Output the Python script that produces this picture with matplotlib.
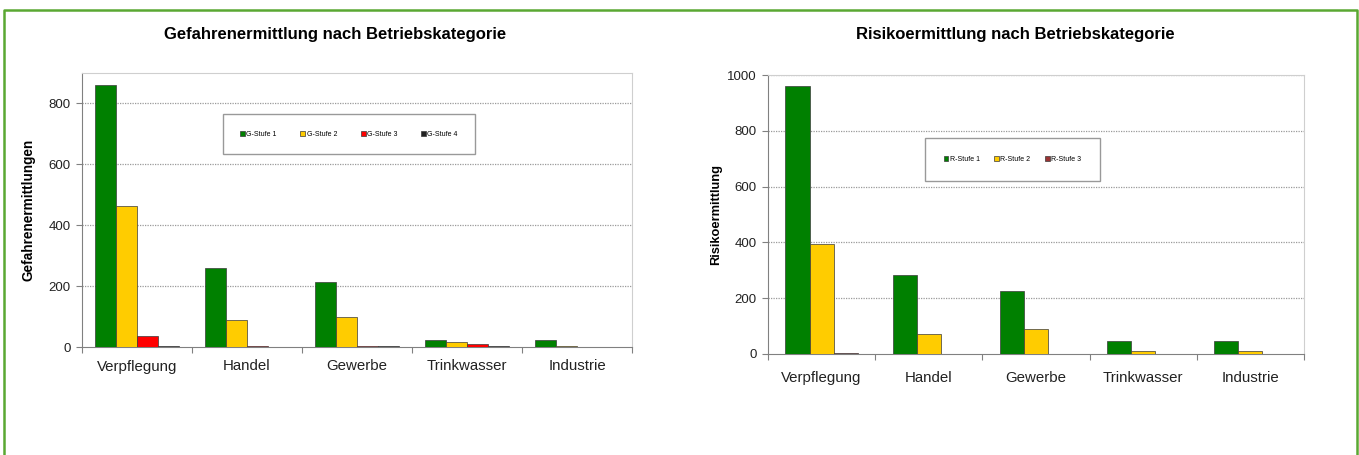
import matplotlib.pyplot as plt
import numpy as np
from matplotlib.lines import Line2D

plt.rcParams['font.family'] = ['Liberation Sans', 'DejaVu Sans']

categories = ['Verpflegung', 'Handel', 'Gewerbe', 'Trinkwasser', 'Industrie']

# Gefahrenermittlung (left chart)
g_labels = ['G-Stufe 1', 'G-Stufe 2', 'G-Stufe 3', 'G-Stufe 4']
g_stufe1 = [860, 259, 213, 22, 22]
g_stufe2 = [463, 88, 97, 18, 2]
g_stufe3 = [35, 3, 3, 10, 0]
g_stufe4 = [2, 0, 2, 3, 0]
g_colors = ['#008000', '#ffcc00', '#ff0000', '#222222']

# Risikoermittlung (right chart)
r_labels = ['R-Stufe 1', 'R-Stufe 2', 'R-Stufe 3']
r_stufe1 = [962, 282, 226, 48, 48]
r_stufe2 = [395, 73, 89, 9, 9]
r_stufe3 = [3, 0, 0, 0, 0]
r_colors = ['#008000', '#ffcc00', '#993333']

W, H = 1359, 455
fig = plt.figure(figsize=(W / 100, H / 100), dpi=100)


def fx(px):
    return px / W


def fy(py):
    return 1 - py / H


def grouped_bars(ax, series, colors, labels, bar_w, ymax, step):
    x = np.arange(len(categories)) + 0.5
    n = len(series)
    for k, (vals, c, lab) in enumerate(zip(series, colors, labels)):
        off = (k - (n - 1) / 2) * bar_w
        ax.bar(x + off, vals, bar_w, color=c, edgecolor='#3a3a3a',
               linewidth=0.5, label=lab, zorder=3)
    ax.set_xlim(0, len(categories))
    ax.set_ylim(0, ymax)
    ax.set_xticks(np.arange(len(categories) + 1))
    ax.set_xticklabels([])
    ax.set_xticks(x, minor=True)
    ax.set_xticklabels(categories, minor=True, fontsize=10.8, color='#222222')
    ax.tick_params(axis='x', which='major', length=4, color='#808080')
    ax.tick_params(axis='x', which='minor', length=0)
    ax.set_yticks(np.arange(0, ymax + 1, step))
    ax.tick_params(axis='y', length=4, color='#808080', labelsize=9.5,
                   labelcolor='#222222', pad=4)
    for yv in np.arange(step, ymax + 1, step):
        ax.axhline(yv, color='#9a9a9a', lw=0.9, ls=(0, (1, 1)), zorder=1)
    for s in ['left', 'bottom']:
        ax.spines[s].set_color('#808080')
    for s in ['top', 'right']:
        ax.spines[s].set_color('#cfcfcf')


# left chart
ax1 = fig.add_axes([fx(82), fy(347), fx(632 - 82), (347 - 73) / H])
grouped_bars(ax1, [g_stufe1, g_stufe2, g_stufe3, g_stufe4], g_colors,
             g_labels, 0.19, 900, 200)
ax1.set_yticks([0, 200, 400, 600, 800])
ax1.tick_params(axis='x', which='minor', pad=9)
ax1.set_ylabel('Gefahrenermittlungen', fontsize=9.8, fontweight='bold')
ax1.yaxis.set_label_coords(-0.084, 0.5)
ax1.legend(loc='center', bbox_to_anchor=(fx(220), fy(155), fx(258), 42 / H),
           bbox_transform=fig.transFigure, mode='expand', ncol=4,
           fontsize=5, frameon=True, fancybox=False, edgecolor='#808080',
           borderpad=2.4, handlelength=0.7, handleheight=0.7,
           handletextpad=0.2, columnspacing=1.5)
fig.text(fx(335), fy(35), 'Gefahrenermittlung nach Betriebskategorie',
         ha='center', va='center', fontsize=12, fontweight='bold')

# right chart
ax2 = fig.add_axes([fx(768), fy(354), fx(1304 - 768), (354 - 75) / H])
grouped_bars(ax2, [r_stufe1, r_stufe2, r_stufe3], r_colors,
             r_labels, 0.225, 1000, 200)
ax2.tick_params(axis='x', which='minor', pad=12)
ax2.set_ylabel('Risikoermittlung', fontsize=9.3, fontweight='bold')
ax2.yaxis.set_label_coords(-0.086, 0.5)
ax2.legend(loc='center', bbox_to_anchor=(fx(922), fy(182), fx(181), 45 / H),
           bbox_transform=fig.transFigure, mode='expand', ncol=3,
           fontsize=5, frameon=True, fancybox=False, edgecolor='#808080',
           borderpad=2.6, handlelength=0.7, handleheight=0.7,
           handletextpad=0.2, columnspacing=1.5)
fig.text(fx(1015), fy(35), 'Risikoermittlung nach Betriebskategorie',
         ha='center', va='center', fontsize=12, fontweight='bold')

# green frame
frame = '#5aa832'
fig.add_artist(Line2D([fx(4), fx(4), fx(1357), fx(1357)],
                      [fy(455), fy(10), fy(10), fy(455)],
                      transform=fig.transFigure, color=frame, lw=1.8))

fig.savefig('out.png', dpi=100)
